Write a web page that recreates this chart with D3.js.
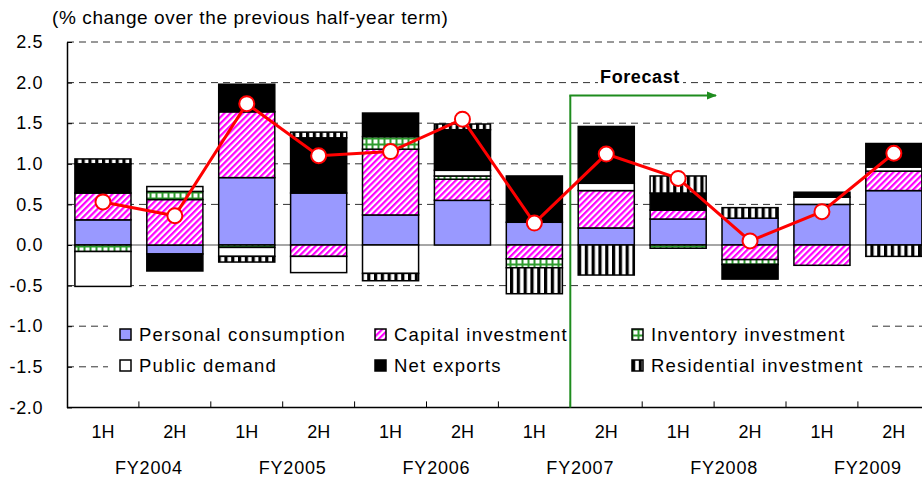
<!DOCTYPE html>
<html>
<head>
<meta charset="utf-8">
<script src="https://cdn.jsdelivr.net/npm/d3@7"></script>
<style>
  body { margin: 0; background: #fff; }
  text { font-family: "Liberation Sans", Arial, sans-serif; fill: #000; }
</style>
</head>
<body>
<div id="chart"></div>
<script>
// half-year terms and fiscal years
const halves = ["1H", "2H", "1H", "2H", "1H", "2H", "1H", "2H", "1H", "2H", "1H", "2H"];
const fiscalYears = ["FY2004", "FY2005", "FY2006", "FY2007", "FY2008", "FY2009"];

// contributions (% points)
const personal    = [0.31, -0.11, 0.83, 0.64, 0.37, 0.55, 0.28, 0.21, 0.32, 0.33, 0.50, 0.67];
const capital     = [0.33, 0.56, 0.81, -0.14, 0.81, 0.26, -0.17, 0.46, 0.11, -0.18, -0.25, 0.24];
const inventory   = [-0.08, 0.10, -0.03, 0, 0.155, 0.04, -0.11, 0, -0.04, -0.06, 0, 0];
const publicDem   = [-0.43, 0.06, -0.11, -0.20, -0.35, 0.07, 0, 0.09, 0, 0, 0.09, 0.05];
const netExports  = [0.36, -0.21, 0.34, 0.68, 0.29, 0.50, 0.57, 0.70, 0.21, -0.18, 0.06, 0.29];
const residential = [0.06, 0, -0.07, 0.07, -0.09, 0.07, -0.32, -0.37, 0.21, 0.13, 0, -0.14];
const gdp         = [0.53, 0.36, 1.74, 1.10, 1.15, 1.55, 0.27, 1.12, 0.82, 0.05, 0.41, 1.13];

const yTicks = [2.5, 2.0, 1.5, 1.0, 0.5, 0.0, -0.5, -1.0, -1.5, -2.0];
const forecastStart = 7; // first forecast term index

const seriesKeys = ["personal", "capital", "inventory", "publicDem", "netExports", "residential"];
const seriesNames = ["Personal consumption", "Capital investment", "Inventory investment",
                     "Public demand", "Net exports", "Residential investment"];
const seriesFill = {
  personal: "#9999FF",
  capital: "url(#pat-capital)",
  inventory: "url(#pat-inventory)",
  publicDem: "#FFFFFF",
  netExports: "#000000",
  residential: "url(#pat-residential)"
};

const rows = halves.map((h, i) => ({
  i: i,
  personal: personal[i], capital: capital[i], inventory: inventory[i],
  publicDem: publicDem[i], netExports: netExports[i], residential: residential[i]
}));

const W = 922, H = 484;
const margin = { left: 67, top: 42 };
const step = 71.9;

const svg = d3.select('#chart').append('svg')
  .attr('width', W)
  .attr('height', H);

// patterns
const defs = svg.append('defs');

const pc = defs.append('pattern')
  .attr('id', 'pat-capital')
  .attr('patternUnits', 'userSpaceOnUse')
  .attr('width', 4.4).attr('height', 4.4)
  .attr('patternTransform', 'rotate(45)');
pc.append('rect').attr('width', 4.4).attr('height', 4.4).attr('fill', '#fff');
pc.append('rect').attr('width', 2.2).attr('height', 4.4).attr('fill', '#FF00FF');

const pi = defs.append('pattern')
  .attr('id', 'pat-inventory')
  .attr('patternUnits', 'userSpaceOnUse')
  .attr('width', 6).attr('height', 6);
pi.append('rect').attr('width', 6).attr('height', 6).attr('fill', '#2E9B2E');
pi.append('rect').attr('x', 1.5).attr('y', 1.5).attr('width', 4).attr('height', 4).attr('fill', '#fff');

const pr = defs.append('pattern')
  .attr('id', 'pat-residential')
  .attr('patternUnits', 'userSpaceOnUse')
  .attr('width', 6.8).attr('height', 6.8);
pr.append('rect').attr('width', 6.8).attr('height', 6.8).attr('fill', '#fff');
pr.append('rect').attr('width', 3.2).attr('height', 6.8).attr('fill', '#000');

defs.append('marker')
  .attr('id', 'arrow')
  .attr('viewBox', '0 0 10 10')
  .attr('refX', 9).attr('refY', 5)
  .attr('markerWidth', 5).attr('markerHeight', 5)
  .attr('orient', 'auto')
  .append('path')
  .attr('d', 'M0,1 L10,5 L0,9 Z')
  .attr('fill', '#1E8C1E');

// scales
const x = d3.scaleBand()
  .domain(d3.range(halves.length))
  .range([margin.left, margin.left + step * halves.length])
  .paddingInner(0.22)
  .paddingOuter(0.11);

const y = d3.scaleLinear()
  .domain([-2.0, 2.5])
  .range([407.4, margin.top]);

const plotRight = W;
const center = i => x(i) + x.bandwidth() / 2;

// grid
svg.append('g')
  .selectAll('line')
  .data(yTicks.filter(d => d !== 0 && d !== -2.0))
  .enter()
  .append('line')
  .attr('x1', margin.left).attr('x2', plotRight)
  .attr('y1', d => y(d)).attr('y2', d => y(d))
  .attr('stroke', '#333')
  .attr('stroke-width', 1)
  .attr('stroke-dasharray', '7,5');

svg.append('line')
  .attr('x1', margin.left).attr('x2', plotRight)
  .attr('y1', y(0)).attr('y2', y(0))
  .attr('stroke', '#888')
  .attr('stroke-width', 1.5);

// stacked bars
const stacked = d3.stack()
  .keys(seriesKeys)
  .offset(d3.stackOffsetDiverging)(rows);

svg.append('g')
  .selectAll('g')
  .data(stacked)
  .enter()
  .append('g')
  .attr('fill', d => seriesFill[d.key])
  .selectAll('rect')
  .data(d => d.filter(p => p[1] - p[0] !== 0))
  .enter()
  .append('rect')
  .attr('x', d => x(d.data.i))
  .attr('width', x.bandwidth())
  .attr('y', d => y(Math.max(d[0], d[1])))
  .attr('height', d => Math.abs(y(d[0]) - y(d[1])))
  .attr('stroke', '#000')
  .attr('stroke-width', 1.5);

// axes
const yAxis = d3.axisLeft(y)
  .tickValues(yTicks)
  .tickFormat(d => d.toFixed(1))
  .tickSizeInner(-5)
  .tickSizeOuter(0)
  .tickPadding(24);

svg.append('g')
  .attr('transform', 'translate(' + margin.left + ',0)')
  .call(yAxis)
  .call(g => g.select('.domain').attr('stroke', '#000').attr('stroke-width', 1.5))
  .call(g => g.selectAll('.tick line').attr('stroke', '#000'))
  .call(g => g.selectAll('.tick text')
    .attr('font-size', 18)
    .attr('letter-spacing', 0.6)
    .attr('font-family', '"Liberation Sans", Arial, sans-serif')
    .attr('fill', '#000'));

svg.append('line')
  .attr('x1', margin.left).attr('x2', plotRight)
  .attr('y1', y(-2.0)).attr('y2', y(-2.0))
  .attr('stroke', '#000')
  .attr('stroke-width', 1.5);

svg.append('g')
  .selectAll('line')
  .data(d3.range(1, halves.length))
  .enter()
  .append('line')
  .attr('x1', i => center(i) - step / 2).attr('x2', i => center(i) - step / 2)
  .attr('y1', y(-2.0)).attr('y2', y(-2.0) - 6)
  .attr('stroke', '#000');

svg.append('g')
  .selectAll('text')
  .data(halves)
  .enter()
  .append('text')
  .attr('x', (d, i) => center(i))
  .attr('y', 438)
  .attr('text-anchor', 'middle')
  .attr('font-size', 18)
  .text(d => d);

svg.append('g')
  .selectAll('text')
  .data(fiscalYears)
  .enter()
  .append('text')
  .attr('x', (d, k) => (center(2 * k) + center(2 * k + 1)) / 2 + 10)
  .attr('y', 474)
  .attr('text-anchor', 'middle')
  .attr('font-size', 18)
  .attr('letter-spacing', 0.8)
  .text(d => d);

// title
svg.append('text')
  .attr('x', 52)
  .attr('y', 24)
  .attr('font-size', 19)
  .attr('letter-spacing', 0.6)
  .text('(% change over the previous half-year term)');

// legend
const legend = svg.append('g');
legend.append('rect')
  .attr('x', 108).attr('y', 316)
  .attr('width', 764).attr('height', 64)
  .attr('fill', '#fff');

const legendCols = [120, 375, 632];
const legendRows = [335, 366];

const item = legend.selectAll('g.item')
  .data(seriesKeys)
  .enter()
  .append('g')
  .attr('class', 'item')
  .attr('transform', (d, i) => {
    // Excel fills the legend row by row
    const col = i % 3, row = Math.floor(i / 3);
    return 'translate(' + legendCols[col] + ',' + legendRows[row] + ')';
  });

item.append('rect')
  .attr('x', 0).attr('y', -6)
  .attr('width', 11).attr('height', 11)
  .attr('fill', d => seriesFill[d])
  .attr('stroke', '#000')
  .attr('stroke-width', 1.5);

item.append('text')
  .attr('x', 19)
  .attr('y', 0)
  .attr('dy', '0.35em')
  .attr('font-size', 18.5)
  .attr('letter-spacing', 1.2)
  .text((d, i) => seriesNames[i]);

// forecast marker
const fx = center(forecastStart) - step / 2;
svg.append('line')
  .attr('x1', fx).attr('x2', fx)
  .attr('y1', 95.5).attr('y2', y(-2.0))
  .attr('stroke', '#1E8C1E')
  .attr('stroke-width', 2);

svg.append('line')
  .attr('x1', fx - 1).attr('x2', 716)
  .attr('y1', 95.5).attr('y2', 95.5)
  .attr('stroke', '#1E8C1E')
  .attr('stroke-width', 2)
  .attr('marker-end', 'url(#arrow)');

svg.append('rect')
  .attr('x', 598).attr('y', 69)
  .attr('width', 85).attr('height', 17)
  .attr('fill', '#fff');

svg.append('text')
  .attr('x', 640)
  .attr('y', 83)
  .attr('text-anchor', 'middle')
  .attr('font-size', 18)
  .attr('font-weight', 'bold')
  .attr('letter-spacing', 0.6)
  .text('Forecast');

// GDP line
const line = d3.line()
  .x((d, i) => center(i))
  .y(d => y(d));

svg.append('path')
  .datum(gdp)
  .attr('d', line)
  .attr('fill', 'none')
  .attr('stroke', '#FF0000')
  .attr('stroke-width', 3);

svg.append('g')
  .selectAll('circle')
  .data(gdp)
  .enter()
  .append('circle')
  .attr('cx', (d, i) => center(i))
  .attr('cy', d => y(d))
  .attr('r', 7.5)
  .attr('fill', '#fff')
  .attr('stroke', '#FF0000')
  .attr('stroke-width', 2);
</script>
</body>
</html>
